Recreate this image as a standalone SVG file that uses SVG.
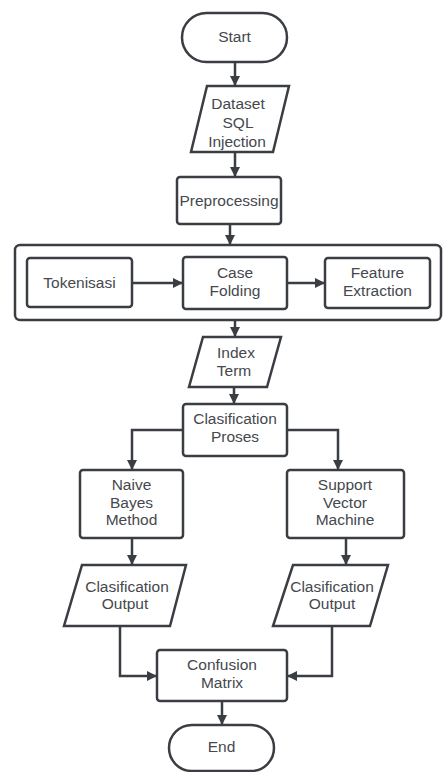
<svg xmlns="http://www.w3.org/2000/svg" width="444" height="772" viewBox="0 0 444 772">
<defs>
<marker id="ah" viewBox="0 0 10 10" refX="10" refY="5" markerWidth="10" markerHeight="10" markerUnits="userSpaceOnUse" orient="auto">
<path d="M0,0 L10,5 L0,10 z" fill="#3a3d42"/>
</marker>
</defs>
<style>
.s{fill:#fff;stroke:#3a3d42;stroke-width:2.5}
.c{fill:none;stroke:#3a3d42;stroke-width:2.5;marker-end:url(#ah)}
text{font-family:"Liberation Sans",Arial,sans-serif;font-size:15.5px;fill:#45484d;text-anchor:middle}
</style>
<rect width="444" height="772" fill="#fff"/>
<g id="container"><rect class="s" x="15" y="245" width="426" height="75" rx="5"/></g>
<g id="start"><rect class="s" x="182" y="13" width="105" height="49" rx="24.5"/><text x="234.5" y="42">Start</text></g>
<g id="dataset"><path class="s" d="M207,86 H289 L273,152 H191 Z"/><text x="238" y="109">Dataset</text><text x="238" y="128">SQL</text><text x="237" y="147">Injection</text></g>
<g id="preprocessing"><rect class="s" x="177" y="177" width="104" height="47" rx="3"/><text x="229" y="206">Preprocessing</text></g>
<g id="tokenisasi"><rect class="s" x="27" y="258" width="105" height="49" rx="3"/><text x="79.5" y="288">Tokenisasi</text></g>
<g id="casefolding"><rect class="s" x="183" y="257" width="104" height="52" rx="3"/><text x="235" y="278">Case</text><text x="235" y="296">Folding</text></g>
<g id="feature"><rect class="s" x="325" y="258" width="105" height="50" rx="3"/><text x="377.5" y="278">Feature</text><text x="377.5" y="296">Extraction</text></g>
<g id="indexterm"><path class="s" d="M203,337 H281 L267,387 H189 Z"/><text x="236" y="358">Index</text><text x="234" y="376">Term</text></g>
<g id="clasification"><rect class="s" x="183" y="404" width="104" height="52" rx="3"/><text x="235" y="424">Clasification</text><text x="235" y="442">Proses</text></g>
<g id="naive"><rect class="s" x="80" y="470" width="103" height="68" rx="3"/><text x="131.5" y="490">Naive</text><text x="131.5" y="508">Bayes</text><text x="131.5" y="525">Method</text></g>
<g id="svm"><rect class="s" x="287" y="470" width="117" height="68" rx="3"/><text x="345" y="490">Support</text><text x="345" y="508">Vector</text><text x="345" y="525">Machine</text></g>
<g id="output1"><path class="s" d="M82,565 H186 L170,626 H64 Z"/><text x="127" y="592">Clasification</text><text x="125" y="609">Output</text></g>
<g id="output2"><path class="s" d="M293,565 H388 L370,626 H273 Z"/><text x="332" y="592">Clasification</text><text x="332" y="609">Output</text></g>
<g id="confusion"><rect class="s" x="157" y="650" width="130" height="51" rx="3"/><text x="222" y="670">Confusion</text><text x="222" y="688">Matrix</text></g>
<g id="end"><rect class="s" x="169" y="725" width="105" height="46" rx="23"/><text x="221.5" y="752">End</text></g>
<g id="connectors">
<path class="c" d="M235,62 V86"/>
<path class="c" d="M235,152 V177"/>
<path class="c" d="M230,224 V245"/>
<path class="c" d="M132,283 H183"/>
<path class="c" d="M287,283 H325"/>
<path class="c" d="M235,320 V337"/>
<path class="c" d="M234,387 V404"/>
<path class="c" d="M183,430 H132 V470"/>
<path class="c" d="M287,430 H338 V470"/>
<path class="c" d="M132,538 V565"/>
<path class="c" d="M346,538 V565"/>
<path class="c" d="M120,626 V676 H157"/>
<path class="c" d="M332,626 V676 H287"/>
<path class="c" d="M222,701 V725"/>
</g>
</svg>
